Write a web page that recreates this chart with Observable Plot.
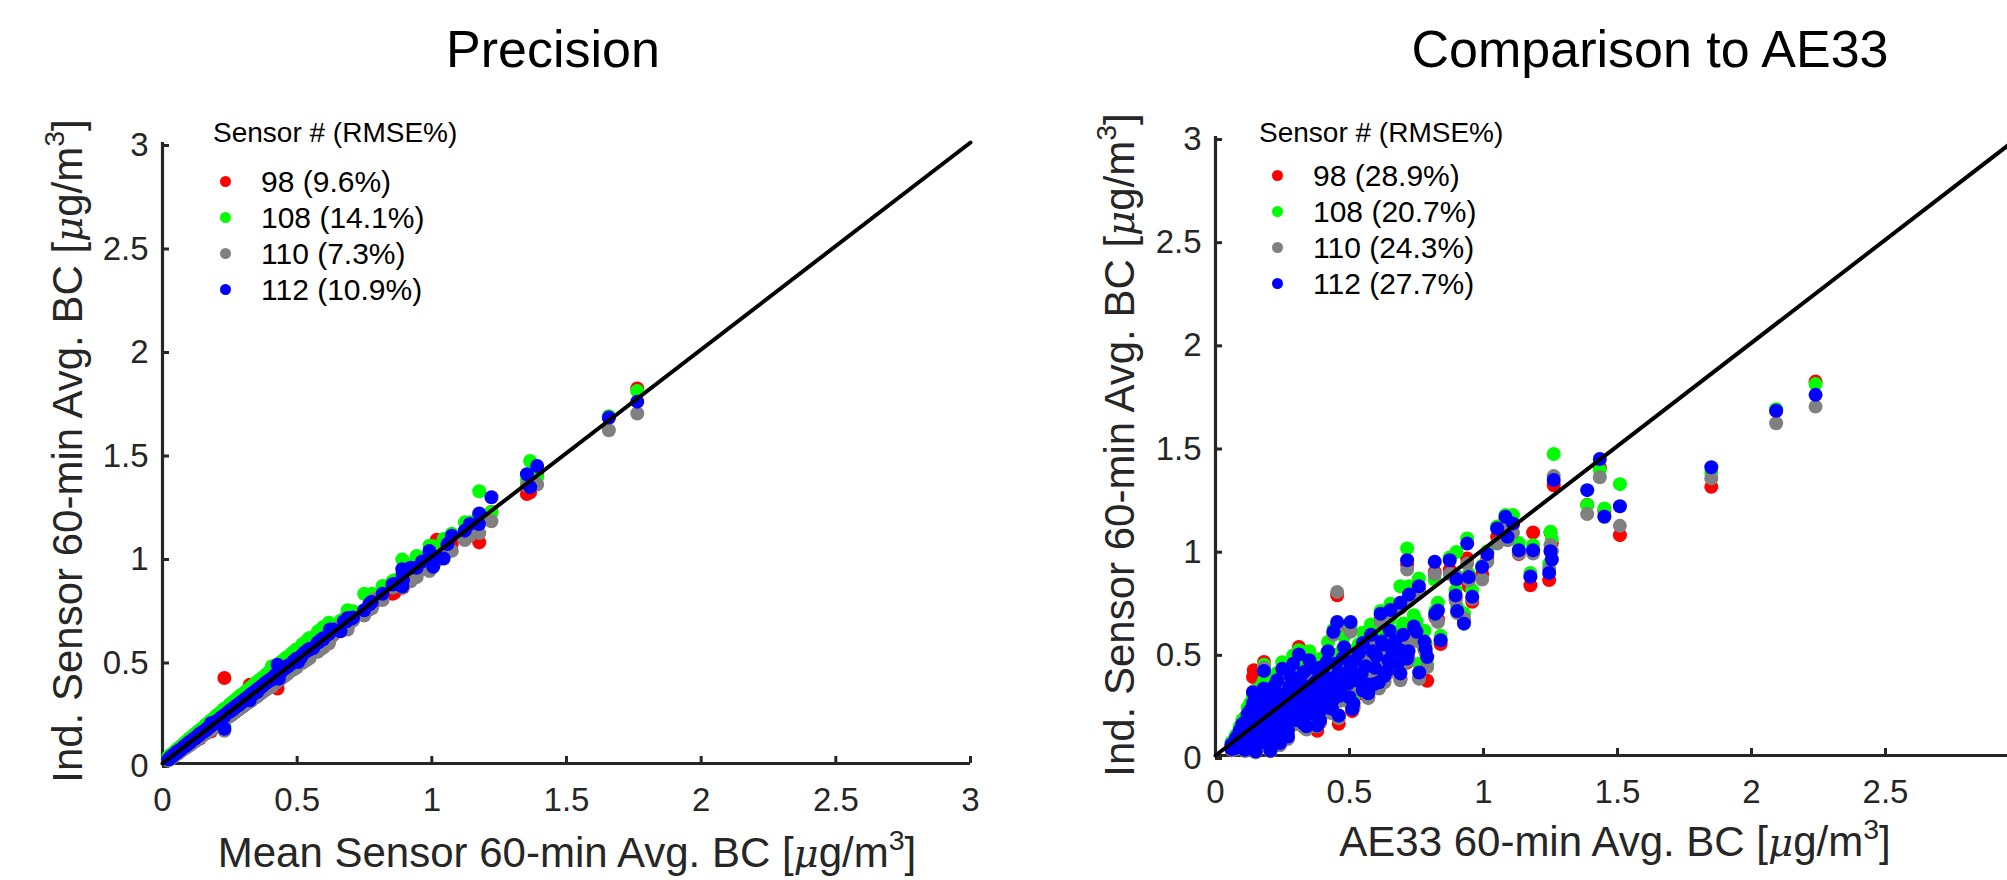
<!DOCTYPE html>
<html>
<head>
<meta charset="utf-8">
<script src="https://cdn.jsdelivr.net/npm/d3@7"></script>
<script src="https://cdn.jsdelivr.net/npm/@observablehq/plot@0.6"></script>
<style>
html, body { margin: 0; padding: 0; background: #fff; }
body { width: 2007px; height: 880px; overflow: hidden; position: relative;
  font-family: "Liberation Sans", Arial, Helvetica, sans-serif; }
.abs { position: absolute; white-space: nowrap; }
sup { font-size: 0.68em; vertical-align: 0.6em; line-height: 0; }
</style>
</head>
<body>
<script>
// ---------------- data ----------------
const sensorIds = ["98", "108", "110", "112"];
const sensorColors = ["#ff0000", "#00ff00", "#808080", "#0000ff"];
const rmsePrecision = ["9.6%", "14.1%", "7.3%", "10.9%"];
const rmseAE33 = ["28.9%", "20.7%", "24.3%", "27.7%"];
const tickValues = [0, 0.5, 1, 1.5, 2, 2.5, 3];
const tickValuesRightX = [0, 0.5, 1, 1.5, 2, 2.5];
const oneToOne = [0, 3];

// hourly values: AE33 reference and the four sensors (µg/m³), same order in every array
const ae33 = [
  2.239,2.092,1.850,1.262,1.434,1.387,1.451,1.509,1.185,1.175,
  1.250,1.245,1.255,0.715,0.818,0.874,0.899,0.939,0.945,0.902,
  0.927,0.958,0.759,0.722,0.790,0.840,0.820,0.896,0.784,0.715,
  0.616,0.653,0.690,0.454,0.454,0.504,0.440,0.690,0.640,0.590,
  0.550,0.510,0.460,0.380,0.390,
  1.082,1.110,1.051,1.090,1.014,0.995,1.132,
  0.06,0.07,0.08,0.08,0.09,0.10,0.10,0.11,0.12,0.12,
  0.13,0.13,0.143,0.14,0.15,0.15,0.16,0.17,0.17,0.181,
  0.18,0.19,0.19,0.20,0.205,0.21,0.22,0.22,0.23,0.24,
  0.249,0.25,0.26,0.27,0.28,0.28,0.29,0.30,0.311,0.31,
  0.32,0.33,0.34,0.34,0.35,0.36,0.37,0.38,0.39,0.40,
  0.41,0.42,0.43,0.44,0.45,0.47,0.48,0.49,0.50,0.52,
  0.53,0.55,0.56,0.57,0.58,0.60,0.62,0.63,0.65,0.66,
  0.68,0.70,0.74,0.76,0.78,0.83,0.09,0.11,0.13,0.16,
  0.18,0.21,0.23,0.26,0.29,0.14,0.15,0.24,0.27,
  0.085,0.095,0.105,0.115,0.125,0.135,0.145,0.155,0.165,0.175,
  0.185,0.195,0.205,0.215,0.225,0.235,0.245,0.255,0.265,0.275,
  0.285,0.295,0.305,0.315,0.325,0.335,0.345,0.355,0.365,0.375,
  0.385,0.395,0.405,0.415,0.425,0.435,0.455,0.465,0.475,0.495,
  0.505,0.515,0.535,0.545,0.565,0.585,0.595,0.61,0.625,0.645,
  0.67,0.69,0.72,0.75,0.06,0.07,0.075,0.10,0.12,0.14,
  0.16,0.17,0.19,0.20,0.22,0.23,0.25,0.27,0.30,0.32,
  0.33,0.36,0.38,0.40,0.44,0.46,0.51];
const s98 = [
  1.812,1.670,1.302,1.310,1.396,1.215,1.185,1.068,1.081,0.825,
  1.080,0.850,1.030,0.925,0.890,0.900,0.850,0.955,0.820,0.700,
  0.650,0.745,0.800,0.760,0.362,0.540,0.670,0.760,0.500,0.450,
  0.660,0.700,0.720,0.777,0.620,0.610,0.590,0.500,0.400,0.340,
  0.300,0.215,0.154,0.120,0.160,
  1.140,1.120,1.060,1.050,0.950,0.880,0.976,
  .026,.052,.080,.036,.110,.064,.140,.028,.090,.190,
  .055,.128,.413,.235,.020,.165,.092,.290,.118,.453,
  .205,.056,.148,.250,.026,.100,.175,.325,.074,.212,
  .398,.138,.280,.110,.195,.360,.242,.158,.526,.310,
  .214,.380,.130,.270,.432,.185,.328,.242,.395,.290,
  .212,.470,.348,.252,.412,.310,.490,.375,.262,.432,
  .338,.508,.405,.282,.545,.452,.518,.358,.565,.470,
  .415,.548,.585,.375,.515,.660,.046,.150,.210,.248,
  .310,.275,.345,.190,.420,.380,.270,.052,.084,
  .060,.085,.112,.060,.150,.095,.190,.130,.220,.075,
  .170,.235,.125,.210,.285,.150,.255,.095,.230,.312,
  .165,.280,.205,.352,.262,.180,.312,.235,.395,.290,
  .195,.345,.262,.420,.300,.210,.365,.270,.440,.325,
  .400,.235,.460,.370,.320,.470,.395,.330,.500,.430,
  .515,.370,.470,.560,.048,.030,.075,.040,.050,.080,
  .055,.180,.110,.195,.120,.230,.185,.255,.235,.300,
  .140,.275,.340,.380,.330,.300,.360];
const s108 = [
  1.800,1.678,1.370,1.461,1.383,1.214,1.197,1.315,1.019,0.885,
  1.085,0.930,1.050,1.003,0.852,0.960,0.986,1.052,0.880,0.720,
  0.690,0.800,0.858,0.820,0.440,0.580,0.700,0.800,0.540,0.490,
  0.700,0.736,0.820,null,0.640,0.630,0.610,0.540,0.430,0.370,
  0.325,0.240,0.190,0.150,0.175,
  1.165,1.165,1.110,1.080,0.990,0.920,1.030,
  .040,.068,.102,.052,.138,.086,.172,.042,.118,.232,
  .074,.160,.180,.285,.034,.205,.122,.335,.152,.440,
  .248,.076,.182,.300,.036,.130,.215,.380,.096,.262,
  .452,.172,.335,.140,.238,.420,.292,.195,.510,.368,
  .262,.470,.162,.325,.505,.228,.392,.295,.468,.345,
  .262,.550,.410,.305,.488,.370,.575,.445,.315,.510,
  .400,.595,.478,.336,.635,.530,.605,.420,.660,.550,
  .488,.640,.680,.445,.605,.740,.064,.185,.255,.295,
  .360,.325,.400,.230,.485,.300,.318,.074,.110,
  .078,.108,.140,.080,.185,.122,.228,.162,.262,.098,
  .208,.280,.156,.252,.335,.186,.305,.122,.276,.368,
  .202,.332,.248,.415,.312,.220,.370,.285,.462,.345,
  .238,.408,.315,.495,.358,.255,.432,.325,.515,.388,
  .470,.285,.540,.435,.380,.550,.465,.392,.585,.505,
  .600,.435,.550,.650,.064,.045,.095,.056,.066,.102,
  .074,.218,.140,.238,.150,.276,.225,.305,.285,.355,
  .172,.330,.402,.450,.392,.358,.425];
const s110 = [
  1.691,1.610,1.343,1.354,1.348,1.170,1.160,1.113,0.979,0.870,
  1.020,0.905,0.990,0.901,0.880,0.880,0.870,0.930,0.850,0.690,
  0.665,0.760,0.790,0.750,0.429,0.560,0.675,0.750,0.505,0.455,
  0.650,0.690,0.715,0.793,0.625,0.600,0.585,0.500,0.395,0.350,
  0.310,0.230,0.180,0.140,0.165,
  1.100,1.080,1.027,1.043,0.939,0.853,0.980,
  .028,.050,.078,.034,.106,.062,.138,.022,.088,.186,
  .052,.126,.158,.232,.014,.160,.090,.285,.116,.425,
  .200,.054,.142,.245,.020,.096,.170,.318,.072,.210,
  .392,.136,.276,.106,.190,.355,.238,.152,.488,.305,
  .210,.372,.126,.265,.428,.180,.322,.238,.390,.286,
  .208,.465,.342,.248,.408,.305,.485,.372,.258,.428,
  .332,.502,.400,.278,.540,.448,.512,.355,.560,.465,
  .410,.545,.580,.372,.510,.647,.044,.148,.205,.244,
  .305,.270,.340,.185,.415,.310,.265,.050,.080,
  .058,.082,.108,.058,.146,.092,.186,.126,.215,.072,
  .166,.230,.122,.205,.280,.146,.250,.092,.225,.305,
  .160,.275,.200,.348,.258,.176,.308,.230,.390,.285,
  .190,.340,.258,.415,.295,.205,.360,.265,.435,.320,
  .395,.230,.455,.365,.315,.465,.390,.325,.495,.425,
  .510,.365,.465,.555,.045,.028,.072,.038,.048,.076,
  .052,.175,.106,.190,.116,.225,.180,.250,.230,.295,
  .136,.270,.335,.375,.325,.295,.355];
const s112 = [
  1.748,1.671,1.397,1.335,1.437,1.286,1.157,1.208,0.995,0.866,
  0.990,0.885,0.950,0.946,0.939,0.946,0.855,1.027,0.865,0.700,
  0.639,0.769,0.820,0.780,0.477,0.558,0.687,0.776,0.518,0.470,
  0.687,0.705,0.740,null,0.647,0.647,0.600,0.510,0.410,0.345,
  0.315,0.225,0.194,0.145,0.170,
  1.157,1.125,1.100,1.060,0.976,0.914,0.995,
  .032,.058,.090,.042,.120,.072,.152,.028,.102,.200,
  .062,.140,.168,.255,.020,.180,.105,.305,.132,.410,
  .222,.062,.160,.270,.024,.112,.192,.338,.082,.232,
  .420,.152,.300,.122,.212,.385,.262,.172,.490,.335,
  .232,.405,.142,.292,.462,.202,.352,.262,.425,.312,
  .232,.505,.372,.272,.445,.335,.525,.402,.282,.462,
  .362,.545,.432,.302,.585,.482,.552,.385,.605,.502,
  .445,.585,.625,.402,.552,.703,.052,.162,.220,.262,
  .325,.292,.365,.202,.445,.305,.282,.060,.092,
  .066,.094,.122,.066,.162,.104,.204,.142,.236,.082,
  .184,.252,.136,.226,.305,.162,.275,.104,.248,.335,
  .178,.300,.222,.378,.282,.195,.335,.255,.425,.312,
  .210,.370,.282,.452,.322,.226,.392,.290,.472,.350,
  .430,.252,.495,.398,.345,.505,.425,.355,.538,.462,
  .552,.398,.505,.600,.054,.034,.082,.045,.055,.088,
  .060,.195,.120,.210,.130,.248,.200,.275,.255,.322,
  .152,.296,.365,.410,.355,.322,.388];

// ---------------- build ----------------
const series = [s98, s108, s110, s112];
const meanOf = i => d3.mean(series, s => s[i]);
const rows = series.map(s =>
  ae33.map((a, i) => ({ae: a, mean: meanOf(i), v: s[i]})).filter(d => d.v != null && d.ae != null));

const FONT = '"Liberation Sans", Arial, Helvetica, sans-serif';

function panel({xKey, xTicks, width, marginLeft, marginRight, marginTop, marginBottom}) {
  return Plot.plot({
    width, height: 880, marginLeft, marginRight, marginTop, marginBottom,
    x: {domain: [0, 3], label: null},
    y: {domain: [0, 3], label: null},
    style: {fontFamily: FONT, fontSize: "33px", color: "#262626", background: "transparent", overflow: "visible"},
    marks: [
      Plot.ruleX([0], {stroke: "#262626", strokeWidth: 3.2}),
      Plot.ruleY([0], {stroke: "#262626", strokeWidth: 3.2}),
      Plot.axisX(xTicks, {tickSize: -7, tickPadding: 31, strokeWidth: 3, stroke: "#262626",
        tickFormat: d => String(d), label: null, fontSize: 33}),
      Plot.axisY(tickValues, {tickSize: -7, tickPadding: 21, strokeWidth: 3, stroke: "#262626",
        tickFormat: d => String(d), label: null, fontSize: 33, dy: 3}),
      ...rows.map((r, k) => Plot.dot(r, {x: xKey, y: "v", r: 7, fill: sensorColors[k], stroke: null})),
      Plot.line(oneToOne, {x: d => d, y: d => d, stroke: "#000", strokeWidth: 4})
    ]
  });
}

function place(el, left) {
  el.style.position = "absolute";
  el.style.left = left + "px";
  el.style.top = "0px";
  document.body.appendChild(el);
}

place(panel({xKey: "mean", xTicks: tickValues, width: 1000, marginLeft: 162, marginRight: 30, marginTop: 142, marginBottom: 117}), 0);
place(panel({xKey: "ae", xTicks: tickValuesRightX, width: 1100, marginLeft: 215, marginRight: 81, marginTop: 136, marginBottom: 125}), 1000);

// ---------------- text ----------------
const ASC = 0.8465; // baseline offset within a line box of line-height = font-size
function text(html, {x, baseline, fs, anchor = "start", color = "#000"}) {
  const d = document.createElement("div");
  d.className = "abs";
  d.innerHTML = html;
  d.style.fontSize = fs + "px";
  d.style.lineHeight = fs + "px";
  d.style.color = color;
  d.style.top = (baseline - ASC * fs) + "px";
  d.style.left = x + "px";
  if (anchor === "middle") d.style.transform = "translateX(-50%)";
  document.body.appendChild(d);
  return d;
}
function ylabel(html, {baselineX, cy, fs, color}) {
  const d = document.createElement("div");
  d.className = "abs";
  d.innerHTML = html;
  d.style.fontSize = fs + "px";
  d.style.lineHeight = fs + "px";
  d.style.color = color;
  d.style.left = (baselineX - (ASC - 0.5) * fs) + "px";
  d.style.top = cy + "px";
  d.style.transform = "translate(-50%, -50%) rotate(-90deg)";
  document.body.appendChild(d);
}

const unit = ' [<i style="font-family:\'DejaVu Serif\',serif;font-size:0.92em">μ</i>g/m<sup>3</sup>]';

text("Precision", {x: 553, baseline: 67, fs: 52, anchor: "middle"});
text("Comparison to AE33", {x: 1650, baseline: 67, fs: 52, anchor: "middle"});

text("Mean Sensor 60-min Avg. BC" + unit, {x: 567, baseline: 868, fs: 42, anchor: "middle", color: "#262626"});
text("AE33 60-min Avg. BC" + unit, {x: 1615, baseline: 857, fs: 42, anchor: "middle", color: "#262626"});

ylabel("Ind. Sensor 60-min Avg. BC" + unit, {baselineX: 83, cy: 451, fs: 42, color: "#262626"});
ylabel("Ind. Sensor 60-min Avg. BC" + unit, {baselineX: 1135, cy: 445, fs: 42, color: "#262626"});

function legend({headerX, headerBaseline, dotX, dotY0, textX, textBaseline0, rmse}) {
  text("Sensor # (RMSE%)", {x: headerX, baseline: headerBaseline, fs: 28});
  sensorIds.forEach((id, k) => {
    const dot = document.createElement("div");
    dot.className = "abs";
    const r = 5.5;
    Object.assign(dot.style, {left: (dotX - r) + "px", top: (dotY0 + 36 * k - r) + "px",
      width: 2 * r + "px", height: 2 * r + "px", borderRadius: "50%", background: sensorColors[k]});
    document.body.appendChild(dot);
    text(`${id} (${rmse[k]})`, {x: textX, baseline: textBaseline0 + 36 * k, fs: 30});
  });
}
legend({headerX: 213, headerBaseline: 143, dotX: 225, dotY0: 181, textX: 261, textBaseline0: 192.7, rmse: rmsePrecision});
legend({headerX: 1259, headerBaseline: 143, dotX: 1277, dotY0: 175, textX: 1313, textBaseline0: 186.7, rmse: rmseAE33});
</script>
</body>
</html>
